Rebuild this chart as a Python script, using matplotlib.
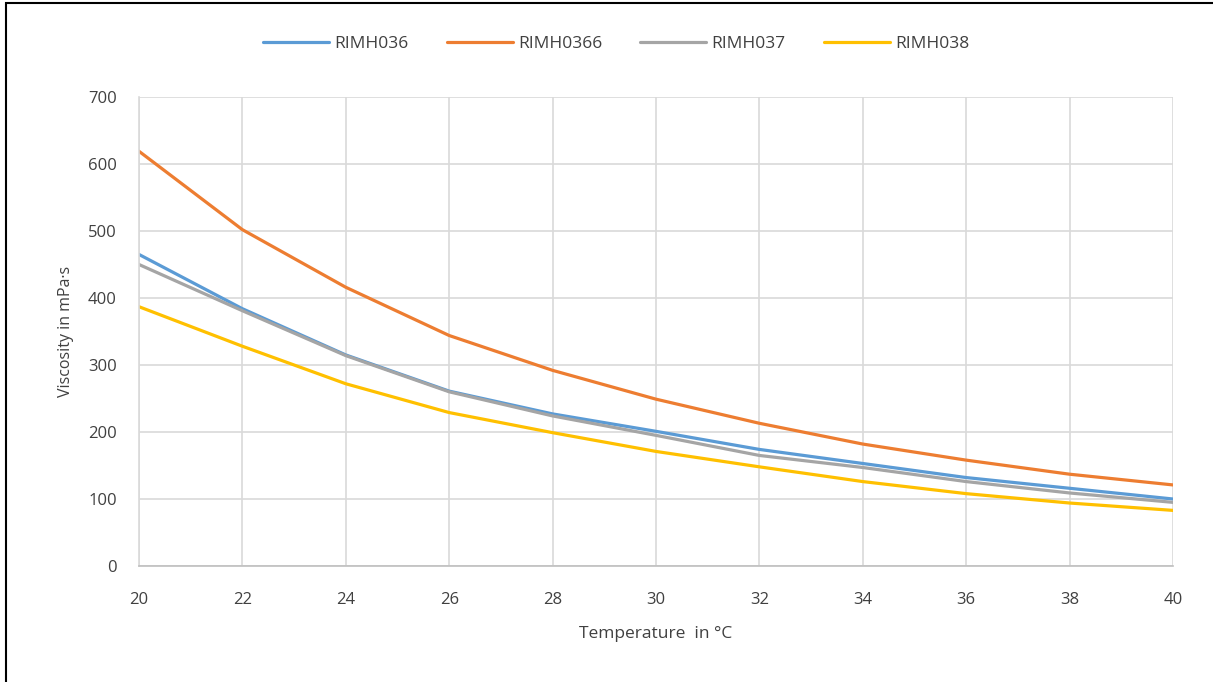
import matplotlib
matplotlib.use("Agg")
import matplotlib.pyplot as plt
from matplotlib.patches import Rectangle

temperature = [20, 22, 24, 26, 28, 30, 32, 34, 36, 38, 40]
rimh036 = [465, 384, 315, 261, 227, 201, 174, 153, 132, 116, 100]
rimh0366 = [619, 502, 416, 344, 292, 249, 213, 182, 158, 137, 121]
rimh037 = [450, 381, 314, 260, 224, 195, 165, 147, 126, 109, 95]
rimh038 = [387, 328, 272, 229, 199, 171, 148, 126, 108, 94, 83]

series_names = ["RIMH036", "RIMH0366", "RIMH037", "RIMH038"]
series_values = [rimh036, rimh0366, rimh037, rimh038]
colors = ["#5B9BD5", "#ED7D31", "#A5A5A5", "#FFC000"]

plt.rcParams['font.family'] = ['Open Sans', 'DejaVu Sans']

fig = plt.figure(figsize=(12.13, 6.82), dpi=100)
ax = fig.add_axes([139/1213, 1-566/682, (1173-139)/1213, (566-97)/682])

for name, vals, c in zip(series_names, series_values, colors):
    ax.plot(temperature, vals, color=c, lw=2.3, label=name, solid_capstyle='round')

ax.set_xlim(20, 40)
ax.set_ylim(0, 700)
ax.set_xticks(range(20, 41, 2))
ax.set_yticks(range(0, 701, 100))
ax.grid(True, color="#D9D9D9", lw=1.2)
ax.set_axisbelow(True)
for s in ["top", "right"]:
    ax.spines[s].set_visible(False)
ax.spines["left"].set_color("#D9D9D9")
ax.spines["left"].set_linewidth(1.2)
ax.spines["bottom"].set_color("#BFBFBF")
ax.spines["bottom"].set_linewidth(1.2)
ax.tick_params(length=0, labelsize=12, labelcolor="#404040")
ax.tick_params(axis='x', pad=19)
ax.tick_params(axis='y', pad=16)
ax.set_xlabel("Temperature  in °C", fontsize=12.5, color="#404040", labelpad=13)
ax.set_ylabel("Viscosity in mPa·s", fontsize=11.5, color="#404040", labelpad=10)

fig.legend(loc="center", bbox_to_anchor=(0.508, 1 - 44/682), ncol=4, frameon=False,
           fontsize=12.5, handlelength=3.8, columnspacing=2.2, handletextpad=0.3,
           labelcolor="#404040")

fig.patches.append(Rectangle((6/1213, -0.1), 1.2, 1.1 - 3/682, transform=fig.transFigure,
                             fill=False, edgecolor="black", lw=1.5))

fig.savefig("out.png", dpi=100)
